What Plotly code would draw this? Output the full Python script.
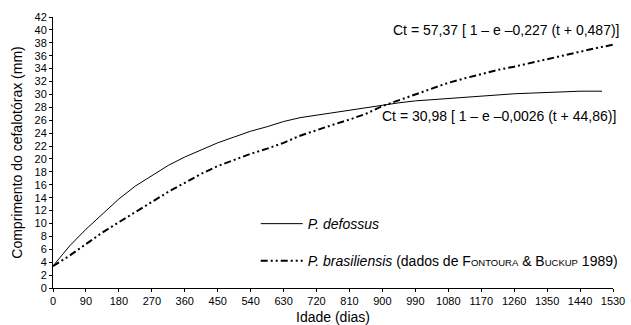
import plotly.graph_objects as go

# P. defossus (solid)
def_days = [0, 45, 90, 135, 180, 225, 270, 315, 360, 405, 450, 495, 540, 585, 630, 675, 720,
            765, 810, 855, 900, 945, 990, 1035, 1080, 1125, 1170, 1215, 1260, 1305, 1350,
            1395, 1440, 1500]
def_len = [3.4, 6.5, 9.1, 11.5, 13.8, 15.8, 17.4, 19.0, 20.3, 21.4, 22.5, 23.4, 24.3, 25.0,
           25.8, 26.4, 26.8, 27.2, 27.6, 28.0, 28.3, 28.7, 29.0, 29.2, 29.4, 29.6, 29.8,
           29.9, 30.1, 30.2, 30.3, 30.4, 30.5, 30.5]

# P. brasiliensis (dash-dot)
bra_days = [0, 45, 90, 135, 180, 225, 270, 315, 360, 405, 450, 495, 540, 585, 630, 675, 720,
            765, 810, 855, 900, 945, 990, 1035, 1080, 1125, 1170, 1215, 1260, 1305, 1350,
            1395, 1440, 1485, 1530]
bra_len = [3.4, 5.0, 6.8, 8.6, 10.2, 11.8, 13.3, 14.9, 16.3, 17.7, 18.9, 19.9, 20.8, 21.6,
           22.5, 23.6, 24.5, 25.3, 26.1, 27.0, 28.2, 29.1, 30.0, 30.9, 31.8, 32.5, 33.2,
           33.8, 34.3, 34.9, 35.5, 36.1, 36.7, 37.2, 37.7]

x_ticks = list(range(0, 1531, 90))
y_ticks = list(range(0, 43, 2))

FONT = "Liberation Sans, Arial, sans-serif"

fig = go.Figure()
fig.add_trace(go.Scatter(
    x=def_days, y=def_len, mode="lines", name="<i>P. defossus</i>",
    line=dict(color="black", width=1), legendgroup="a"))
fig.add_trace(go.Scatter(
    x=bra_days, y=bra_len, mode="lines",
    name="<i>P. brasiliensis</i> (dados de F<span style='font-size:9.5px'>ONTOURA</span> &amp; "
         "B<span style='font-size:9.5px'>UCKUP</span> 1989)",
    line=dict(color="black", width=2, dash="7px,3px,2px,3px,2px,3px"), legendgroup="b"))

fig.add_annotation(x=1.016, y=40.0, xref="paper", yref="y", xanchor="right", yanchor="middle",
                   text="Ct = 57,37 [ 1 – e –0,227 (t + 0,487)]", showarrow=False,
                   font=dict(size=14, color="black", family=FONT))
fig.add_annotation(x=1.009, y=26.7, xref="paper", yref="y", xanchor="right", yanchor="middle",
                   text="Ct = 30,98 [ 1 – e –0,0026 (t + 44,86)]", showarrow=False,
                   font=dict(size=14, color="black", family=FONT))

fig.update_layout(
    width=631, height=325,
    margin=dict(l=53, r=18, t=17, b=37, autoexpand=False),
    paper_bgcolor="white", plot_bgcolor="white",
    font=dict(family=FONT, color="black", size=14),
    showlegend=True,
    legend=dict(x=0.362, y=0.295, xanchor="left", yanchor="top",
                bgcolor="rgba(0,0,0,0)", borderwidth=0, itemwidth=42,
                tracegroupgap=16, traceorder="grouped",
                font=dict(size=14, family=FONT, color="black")),
    xaxis=dict(range=[0, 1530], tickvals=x_ticks, ticktext=[str(v) for v in x_ticks],
               showgrid=False, zeroline=False, showline=True, linecolor="black", linewidth=1,
               ticks="outside", ticklen=3, tickcolor="black", automargin=False,
               tickfont=dict(size=11, family=FONT, color="black"),
               title=dict(text="Idade (dias)", font=dict(size=14, family=FONT), standoff=6)),
    yaxis=dict(range=[0, 42], tickvals=y_ticks, ticktext=[str(v) for v in y_ticks],
               showgrid=False, zeroline=False, showline=True, linecolor="black", linewidth=1,
               ticks="outside", ticklen=3, tickcolor="black", automargin=False,
               tickfont=dict(size=11, family=FONT, color="black"),
               title=dict(text="Comprimento do cefalotórax (mm)",
                          font=dict(size=14, family=FONT), standoff=8)),
)

fig.write_html("out.html")
